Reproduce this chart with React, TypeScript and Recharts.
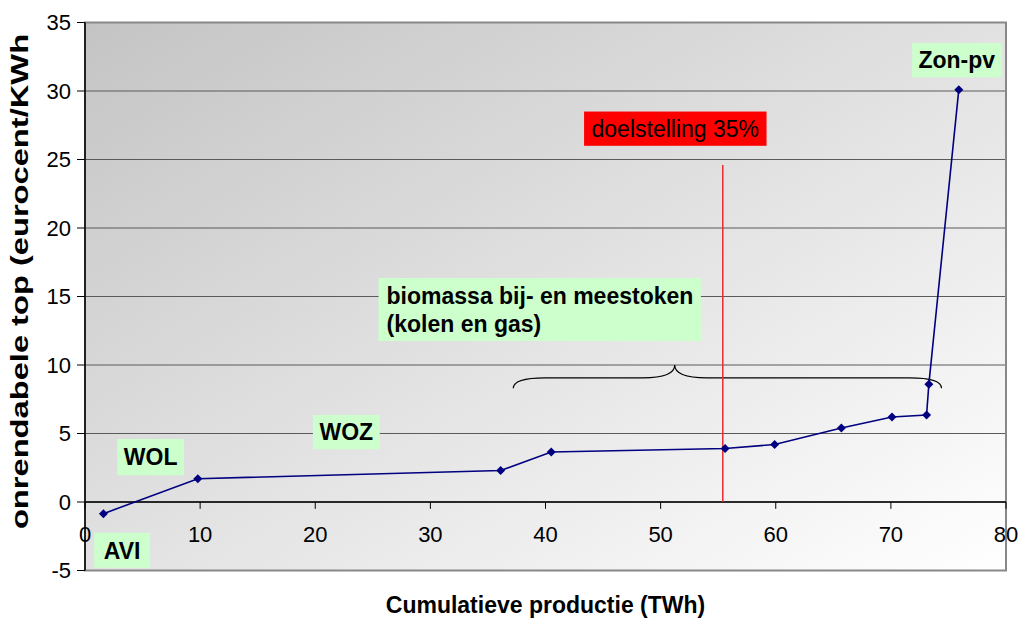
import {
  CartesianGrid,
  Line,
  LineChart,
  ReferenceArea,
  ReferenceLine,
  XAxis,
  YAxis,
} from "recharts";

// cumulatieve productie (TWh) en onrendabele top (eurocent/kWh)
const production = [1.6, 9.8, 36.1, 40.5, 55.6, 59.9, 65.7, 70.1, 73.1, 73.3, 75.9];
const cost = [-0.85, 1.7, 2.3, 3.65, 3.9, 4.2, 5.4, 6.2, 6.35, 8.6, 30.1];

const xTicks = [0, 10, 20, 30, 40, 50, 60, 70, 80];
const yTicks = [-5, 0, 5, 10, 15, 20, 25, 30, 35];

const targetProduction = 55.4;
const targetTop = 24.6;

const data = production.map((x, i) => ({ x, y: cost[i] }));

const FONT = "'Liberation Sans', Arial, sans-serif";

type Note = {
  lines: string[];
  x1: number;
  x2: number;
  y1: number;
  y2: number;
  fill: string;
  bold: boolean;
  align: "middle" | "start";
};

const notes: Note[] = [
  { lines: ["AVI"], x1: 0.8, x2: 5.65, y1: -4.8, y2: -2.25, fill: "#ccffcc", bold: true, align: "middle" },
  { lines: ["WOL"], x1: 2.8, x2: 8.6, y1: 1.95, y2: 4.6, fill: "#ccffcc", bold: true, align: "middle" },
  { lines: ["WOZ"], x1: 19.8, x2: 25.6, y1: 3.85, y2: 6.35, fill: "#ccffcc", bold: true, align: "middle" },
  {
    lines: ["biomassa bij- en meestoken", "(kolen en gas)"],
    x1: 25.5, x2: 53.5, y1: 11.75, y2: 16.35, fill: "#ccffcc", bold: true, align: "start",
  },
  { lines: ["Zon-pv"], x1: 71.85, x2: 79.6, y1: 31.0, y2: 33.5, fill: "#ccffcc", bold: true, align: "middle" },
  { lines: ["doelstelling 35%"], x1: 43.35, x2: 59.2, y1: 26.0, y2: 28.5, fill: "#ff0000", bold: false, align: "middle" },
];

const Diamond = (props: any) => {
  const { cx, cy } = props;
  if (cx == null || cy == null) return null;
  return (
    <path
      d={`M${cx},${cy - 4.5}L${cx + 4.5},${cy}L${cx},${cy + 4.5}L${cx - 4.5},${cy}Z`}
      fill="#000080"
    />
  );
};

const noteShape = (note: Note) => (p: any) => {
  const fs = 23;
  const lh = 28;
  const n = note.lines.length;
  const cy = p.y + p.height / 2;
  const firstBase = cy - ((n - 1) * lh) / 2 + fs * 0.36;
  const tx = note.align === "middle" ? p.x + p.width / 2 : p.x + 8;
  return (
    <g>
      <rect x={p.x} y={p.y} width={p.width} height={p.height} fill={note.fill} />
      {note.lines.map((l, i) => (
        <text
          key={i}
          x={tx}
          y={firstBase + i * lh}
          textAnchor={note.align}
          fontFamily={FONT}
          fontSize={fs}
          fontWeight={note.bold ? "bold" : "normal"}
          fill="#000"
        >
          {l}
        </text>
      ))}
    </g>
  );
};

const braceShape = (p: any) => {
  const x0 = p.x;
  const x1 = p.x + p.width;
  const xm = x0 + p.width * 0.377;
  const top = p.y;
  const bar = p.y + p.height * 0.55;
  const end = p.y + p.height;
  const c = 32;
  const d = `M${x0},${end} Q${x0},${bar} ${x0 + c},${bar} L${xm - c},${bar} Q${xm},${bar} ${xm},${top} Q${xm},${bar} ${xm + c},${bar} L${x1 - c},${bar} Q${x1},${bar} ${x1},${end}`;
  return <path d={d} fill="none" stroke="#000" strokeWidth={1.2} />;
};

const YTitle = (props: any) => {
  const vb = props.viewBox || { x: 0, y: 0, width: 85, height: 548 };
  const cx = vb.x + 28;
  const cy = vb.y + vb.height / 2 - 15;
  return (
    <text
      transform={`translate(${cx},${cy}) rotate(-90) scale(1.42,1)`}
      textAnchor="middle"
      fontFamily={FONT}
      fontSize={23}
      fontWeight="bold"
      fill="#000"
    >
      onrendabele top (eurocent/KWh
    </text>
  );
};

export default function App() {
  return (
    <div style={{ position: "absolute", left: 0, top: 0, background: "#fff" }}>
      <LineChart
        width={1020}
        height={621}
        data={data}
        margin={{ top: 22.5, right: 14, bottom: 0, left: 0 }}
      >
        <defs>
          <linearGradient id="plotBg" x1="0" y1="0" x2="1" y2="1">
            <stop offset="0" stopColor="#c4c4c4" />
            <stop offset="1" stopColor="#ffffff" />
          </linearGradient>
        </defs>
        <CartesianGrid
          vertical={false}
          stroke="#5a5a5a"
          strokeWidth={1.2}
          fill="url(#plotBg)"
          fillOpacity={1}
        />
        <XAxis
          dataKey="x"
          type="number"
          domain={[0, 80]}
          ticks={xTicks}
          tick={false}
          tickLine={false}
          axisLine={false}
          height={50.5}
          label={{
            value: "Cumulatieve productie (TWh)",
            position: "insideBottom",
            offset: 8,
            style: { fontFamily: FONT, fontSize: 23, fontWeight: "bold", fill: "#000" },
          }}
        />
        <YAxis
          type="number"
          domain={[-5, 35]}
          ticks={yTicks}
          interval={0}
          width={85}
          axisLine={{ stroke: "#000", strokeWidth: 1.5 }}
          tickLine={{ stroke: "#000" }}
          tickSize={8}
          tickMargin={6}
          tick={{ fontFamily: FONT, fontSize: 22, fill: "#000" }}
          label={<YTitle />}
        />
        <ReferenceArea
          x1={0}
          x2={80}
          y1={-5}
          y2={35}
          fill="none"
          stroke="#888"
          strokeWidth={2}
        />
        <ReferenceLine y={0} stroke="#000" strokeWidth={1.3} />
        {xTicks.map((t) => (
          <ReferenceLine
            key={t}
            segment={[
              { x: t, y: 0 },
              { x: t, y: -0.5 },
            ]}
            stroke="#000"
            label={{
              value: t,
              position: "bottom",
              offset: 18,
              style: { fontFamily: FONT, fontSize: 22, fill: "#000" },
            }}
          />
        ))}
        <ReferenceLine
          segment={[
            { x: targetProduction, y: 0 },
            { x: targetProduction, y: targetTop },
          ]}
          stroke="#e62a2f"
          strokeWidth={1.5}
        />
        <ReferenceArea x1={37.2} x2={74.4} y1={8.3} y2={10} shape={braceShape} />
        {notes.map((n, i) => (
          <ReferenceArea
            key={i}
            x1={n.x1}
            x2={n.x2}
            y1={n.y1}
            y2={n.y2}
            shape={noteShape(n)}
          />
        ))}
        <Line
          dataKey="y"
          type="linear"
          stroke="#000080"
          strokeWidth={1.6}
          dot={<Diamond />}
          activeDot={false}
          isAnimationActive={false}
        />
      </LineChart>
    </div>
  );
}
